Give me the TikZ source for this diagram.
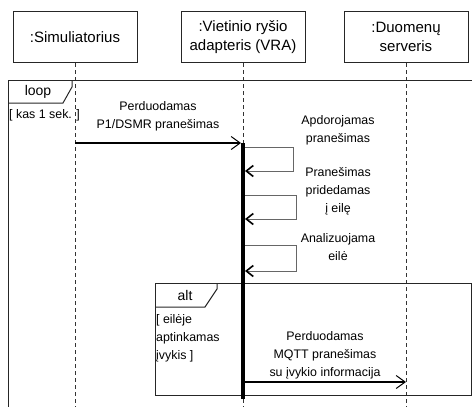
\documentclass[tikz,border=0pt]{standalone}
\usepackage{fontspec}
\setmainfont{Liberation Sans}
\usetikzlibrary{arrows.meta}

\begin{document}
\begin{tikzpicture}[x=1pt, y=-1pt,
    objstyle/.style={rectangle, draw=black!85, line width=1pt, minimum width=124pt, minimum height=51pt, align=center, font=\fontsize{15}{19}\selectfont},
    textstyle/.style={align=center, font=\fontsize{12.4}{18}\selectfont},
    guardstyle/.style={align=left, anchor=north west, inner sep=0pt, font=\fontsize{12.4}{18}\selectfont},
    tagstyle/.style={font=\fontsize{14}{16}\selectfont},
    lifestyle/.style={dash pattern=on 4pt off 3pt, line width=0.8pt, black!80},
    framestyle/.style={line width=1pt, black!85},
    arrowstyle/.style={-{Straight Barb[length=9pt, width=13pt, line width=1pt]}, line width=1.3pt},
    selfstyle/.style={-{Straight Barb[length=7pt, width=11pt, line width=1.6pt, black]}, line width=1pt, black!60}
]
    \useasboundingbox (0,0) rectangle (472,407);

    % objects
    \node[objstyle] (sim) at (75,37) {:Simuliatorius};
    \node[objstyle] (vra) at (243,37) {:Vietinio ryšio\\adapteris (VRA)};
    \node[objstyle] (srv) at (406,37) {:Duomenų\\serveris};

    % lifelines
    \coordinate (simend) at (75,407);
    \coordinate (srvend) at (406,407);
    \coordinate (actstart) at (243,143);
    \coordinate (actend) at (243,399);
    \coordinate (vraend) at (243,407);
    \draw[lifestyle] (sim.south) -- (simend);
    \draw[lifestyle] (srv.south) -- (srvend);
    \draw[lifestyle] (vra.south) -- (actstart);
    \draw[lifestyle] (actend) -- (vraend);

    % loop frame
    \draw[framestyle] (8,407) |- (472,80);
    \draw[framestyle] (8,103) -- (63,103) -- (72,87) -- (72,80);
    \node[tagstyle] (looptag) at (38,92) {loop};
    \node[guardstyle] (loopguard) at (9,109) {[ kas 1 sek. ]};

    % alt frame
    \draw[framestyle] (155,283) rectangle (471,395);
    \draw[framestyle] (155,307) -- (205,307) -- (217,289) -- (217,283);
    \node[tagstyle] (alttag) at (185,295) {alt};
    \node[guardstyle] (altguard) at (156,314) {[ eilėje\\aptinkamas\\įvykis ]};

    % activation
    \draw[line width=4pt] (actstart) -- (actend);

    % messages
    \coordinate (simout) at (75,143);
    \draw[arrowstyle, shorten >=2pt] (simout) -- (actstart);
    \node[textstyle] (msg1) at (158,116) {Perduodamas\\P1/DSMR pranešimas};

    \coordinate (self1a) at (245,147);
    \coordinate (self1b) at (245,171);
    \draw[selfstyle] (self1a) -- ++(48,0) |- (self1b);
    \node[textstyle] (msg2) at (338,130) {Apdorojamas\\pranešimas};

    \coordinate (self2a) at (245,195);
    \coordinate (self2b) at (245,219);
    \draw[selfstyle] (self2a) -- ++(51,0) |- (self2b);
    \node[textstyle] (msg3) at (338,191) {Pranešimas\\pridedamas\\į eilę};

    \coordinate (self3a) at (245,245);
    \coordinate (self3b) at (245,271);
    \draw[selfstyle] (self3a) -- ++(51,0) |- (self3b);
    \node[textstyle] (msg4) at (338,247) {Analizuojama\\eilė};

    \coordinate (vraout) at (245,382);
    \draw[arrowstyle] (vraout) -- (srvend |- vraout);
    \node[textstyle] (msg5) at (325,355) {Perduodamas\\MQTT pranešimas\\su įvykio informacija};
\end{tikzpicture}
\end{document}
